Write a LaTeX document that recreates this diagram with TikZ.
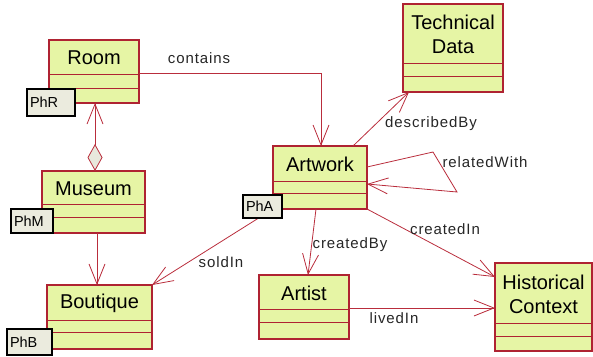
\documentclass[tikz,border=0pt]{standalone}
\usepackage{fontspec}
\setmainfont{Liberation Sans}
\newfontfamily\lblfont[LetterSpace=6]{Liberation Sans}
\usetikzlibrary{arrows.meta}
\definecolor{clsfill}{RGB}{230,245,165}
\definecolor{clsdraw}{RGB}{175,35,50}
\definecolor{lnk}{RGB}{185,45,60}
\definecolor{phfill}{RGB}{235,235,222}
\definecolor{dmfill}{RGB}{232,232,220}
\tikzset{
 cls/.style={draw=clsdraw, fill=clsfill, line width=1.3pt, rectangle, inner sep=0pt, outer sep=0pt},
 clsname/.style={font=\fontsize{20}{24}\selectfont, align=center, inner sep=0pt, text=black, yshift=-1pt},
 divline/.style={draw=clsdraw, line width=1pt},
 ph/.style={draw=black, fill=phfill, line width=1.8pt, inner xsep=3pt, inner ysep=0pt, outer sep=0pt, align=left, font=\fontsize{14.5}{16}\selectfont, text=black},
 assoc/.style={draw=lnk, line width=0.8pt, -{Straight Barb[length=20pt,width=16pt]}},
 lbl/.style={font=\lblfont\fontsize{15}{17}\selectfont, text=black!85, inner sep=0pt},
}
\newcommand{\mkclass}[8]{%
  \pgfmathsetmacro{\cw}{#4-#2}%
  \pgfmathsetmacro{\ch}{#5-#3}%
  \pgfmathsetmacro{\cx}{(#2+#4)/2}%
  \pgfmathsetmacro{\cy}{(#3+#5)/2}%
  \pgfmathsetmacro{\ny}{(#3+#6)/2}%
  \node[cls, minimum width=\cw pt, minimum height=\ch pt] (#1) at (\cx,\cy) {};
  \draw[divline] (#2,#6) -- (#4,#6);
  \draw[divline] (#2,#7) -- (#4,#7);
  \node[clsname] (#1-name) at (\cx,\ny) {#8};
}
\begin{document}
\begin{tikzpicture}[x=1pt,y=-1pt]
\useasboundingbox (0,0) rectangle (593,356);
\mkclass{room}{49}{40}{139}{103}{74}{88}{Room}
\mkclass{techdata}{403}{4}{503}{92}{63}{76}{Technical\\Data}
\mkclass{artwork}{273}{146}{367}{209}{181}{193}{Artwork}
\mkclass{museum}{42}{171}{145}{233}{204}{217}{Museum}
\mkclass{boutique}{47}{285}{152}{349}{320}{332}{Boutique}
\mkclass{artist}{259}{275}{349}{339}{309}{322}{Artist}
\mkclass{historical}{495}{263}{592}{351}{323}{336}{Historical\\Context}

\coordinate (loopA) at (433,152);
\coordinate (loopB) at (457,192);

\draw[assoc] ([yshift=-1.5pt]room.east) -| ([xshift=1pt]artwork.north);
\draw[assoc] ([xshift=33pt]artwork.north) -- ([xshift=-44pt]techdata.south);
\draw[assoc] ([yshift=10.5pt]artwork.east) -- (loopA) -- (loopB) -- ([yshift=-6.5pt]artwork.east);
\draw[assoc] ([xshift=-4pt]artwork.south) -- ([xshift=4pt]artist.north);
\draw[assoc] (artwork.south east) -- ([yshift=-14pt]historical.north west);
\draw[assoc] ([yshift=-1pt]artist.east) -- ([yshift=-1pt]historical.west);
\draw[assoc] (artwork.south west) -- (boutique.north east);
\draw[assoc] ([xshift=3.5pt]museum.south) -- ([xshift=-2.5pt]boutique.north);
\draw[draw=lnk, line width=0.8pt, {Straight Barb[length=20pt,width=16pt]}-{Diamond[length=27pt,width=15pt,fill=dmfill]}] ([xshift=1pt]room.south) -- ([xshift=1.5pt]museum.north);

\node[lbl] (lcontains) at (199,58) {contains};
\node[lbl] (ldescribed) at (431,124) {describedBy};
\node[lbl] (lrelated) at (485,162) {relatedWith};
\node[lbl] (lcreatedby) at (350,245) {createdBy};
\node[lbl] (lcreatedin) at (445,229) {createdIn};
\node[lbl] (lsold) at (221,262) {soldIn};
\node[lbl] (llived) at (394,318) {livedIn};

\node[ph, text width=42pt, minimum height=27pt] (phr) at (51,102.5) {PhR};
\node[ph, text width=36pt, minimum height=24pt] (phm) at (32,221) {PhM};
\node[ph, text width=33pt, minimum height=23pt] (pha) at (262.5,206.5) {PhA};
\node[ph, text width=39pt, minimum height=26pt] (phb) at (29.5,342) {PhB};
\end{tikzpicture}
\end{document}
